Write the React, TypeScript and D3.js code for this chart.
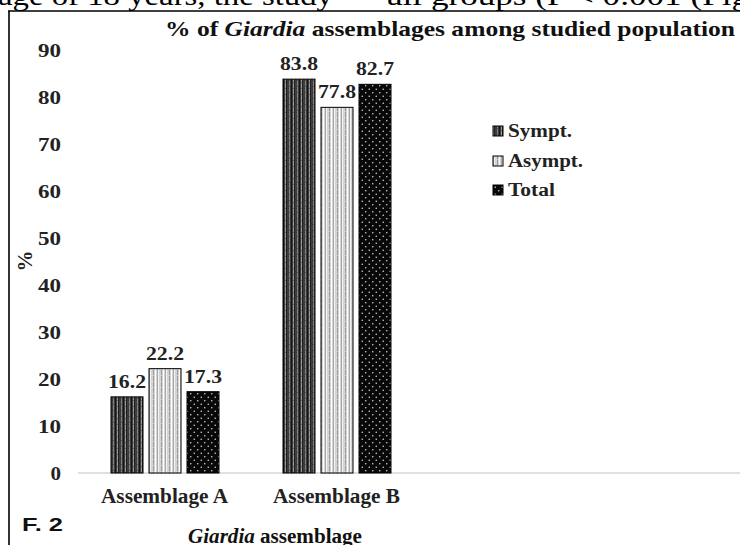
import React from "react";
import * as d3 from "d3";

const categories = ["Assemblage A", "Assemblage B"];
const series = ["Sympt.", "Asympt.", "Total"];
const sympt = [16.2, 83.8];
const asympt = [22.2, 77.8];
const total = [17.3, 82.7];
const yTicks = [0, 10, 20, 30, 40, 50, 60, 70, 80, 90];

const W = 740;
const H = 545;

const values = [sympt, asympt, total];
const patternIds = ["patSym", "patAsym", "patTot"];

export default function App() {
  const y = d3.scaleLinear().domain([0, 90]).range([473, 50]);
  const x0 = d3.scaleBand<string>().domain(categories).range([79, 423]);
  const serif = "'Liberation Serif', 'Times New Roman', serif";
  const sans = "'Liberation Sans', Arial, sans-serif";

  return (
    <svg
      width={W}
      height={H}
      style={{ position: "absolute", left: 0, top: 0, background: "#fff" }}
    >
      <defs>
        <pattern id="patSym" width="8" height="6" patternUnits="userSpaceOnUse">
          <rect width="8" height="6" fill="#3c3c3c" />
          <rect x="1" width="1" height="6" fill="#858585" />
          <rect x="3" width="1" height="6" fill="#151515" />
          <rect x="5" width="1" height="6" fill="#9a9a9a" />
          <rect x="6" width="1" height="6" fill="#202020" />
          <rect x="1" y="2" width="1" height="1" fill="#555" />
          <rect x="5" y="4" width="1" height="1" fill="#666" />
        </pattern>
        <pattern id="patAsym" width="8" height="6" patternUnits="userSpaceOnUse">
          <rect width="8" height="6" fill="#d4d4d4" />
          <rect x="1" width="1" height="6" fill="#9a9a9a" />
          <rect x="3" width="1" height="6" fill="#ffffff" />
          <rect x="5" width="1" height="6" fill="#a8a8a8" />
          <rect x="6" width="1" height="6" fill="#f2f2f2" />
          <rect x="1" y="3" width="1" height="1" fill="#ccc" />
        </pattern>
        <pattern id="patTot" width="7" height="7" patternUnits="userSpaceOnUse">
          <rect width="7" height="7" fill="#080808" />
          <circle cx="1.75" cy="1.75" r="0.8" fill="#cfcfcf" />
          <circle cx="5.25" cy="5.25" r="0.8" fill="#cfcfcf" />
        </pattern>
      </defs>

      {/* page header text (cut off) */}
      <text x={-2} y={5} fontFamily={serif} fontSize={28} textLength={335} lengthAdjust="spacingAndGlyphs">
        age of 18 years, the study
      </text>
      <text x={387} y={5} fontFamily={serif} fontSize={28} textLength={362} lengthAdjust="spacingAndGlyphs">
        all groups (P &lt; 0.001 (Fig
      </text>

      {/* frame */}
      <line x1={8} x2={W} y1={11} y2={11} stroke="#000" strokeWidth={1.6} />
      <line x1={9} x2={9} y1={11} y2={H} stroke="#000" strokeWidth={1.6} />

      {/* title */}
      <text
        x={165}
        y={36}
        fontFamily={serif}
        fontSize={22}
        fontWeight="bold"
        fill="#111"
        textLength={570}
        lengthAdjust="spacingAndGlyphs"
      >
        <tspan>% of </tspan>
        <tspan fontStyle="italic">Giardia</tspan>
        <tspan> assemblages among studied population</tspan>
      </text>

      {/* y tick labels */}
      {yTicks.map((t) => {
        const label = String(t);
        const w = label.length === 1 ? 10.5 : 23;
        return (
          <text
            key={t}
            x={61 - w}
            y={y(t) + 7}
            fontFamily={serif}
            fontSize={19}
            fontWeight="bold"
            fill="#222"
            textLength={w}
            lengthAdjust="spacingAndGlyphs"
          >
            {label}
          </text>
        );
      })}

      {/* y axis title */}
      <text
        transform={`translate(32, 261) rotate(-90)`}
        textAnchor="middle"
        fontFamily={serif}
        fontSize={21}
        fontWeight="bold"
        fill="#222"
      >
        %
      </text>

      {/* zero line */}
      <line x1={78} x2={W} y1={y(0)} y2={y(0)} stroke="#d6d6d6" strokeWidth={1.5} />

      {/* bars */}
      {categories.map((c, ci) => {
        const center = (x0(c) as number) + x0.bandwidth() / 2;
        const x1 = d3
          .scaleBand<string>()
          .domain(series)
          .range([center - 57, center + 57])
          .paddingInner(0.158)
          .paddingOuter(0.079);
        return (
          <g key={c}>
            {series.map((s, si) => {
              const v = values[si][ci];
              const bx = x1(s) as number;
              const bw = x1.bandwidth();
              const label = v.toFixed(1);
              return (
                <g key={s}>
                  <rect
                    x={bx}
                    y={y(v)}
                    width={bw}
                    height={y(0) - y(v)}
                    fill={`url(#${patternIds[si]})`}
                    stroke="#000"
                    strokeWidth={1}
                  />
                  <text
                    x={bx + bw / 2 - 19}
                    y={y(v) - 9}
                    fontFamily={serif}
                    fontSize={19}
                    fontWeight="bold"
                    fill="#222"
                    textLength={38}
                    lengthAdjust="spacingAndGlyphs"
                  >
                    {label}
                  </text>
                </g>
              );
            })}
            <text
              x={center - 64}
              y={503}
              fontFamily={serif}
              fontSize={20}
              fontWeight="bold"
              fill="#222"
              textLength={127}
              lengthAdjust="spacingAndGlyphs"
            >
              {c}
            </text>
          </g>
        );
      })}

      {/* x axis title */}
      <text
        x={188}
        y={543}
        fontFamily={serif}
        fontSize={20}
        fontWeight="bold"
        fill="#111"
        textLength={174}
        lengthAdjust="spacingAndGlyphs"
      >
        <tspan fontStyle="italic">Giardia</tspan>
        <tspan> assemblage</tspan>
      </text>

      {/* figure label */}
      <text
        x={22}
        y={531}
        fontFamily={sans}
        fontSize={19}
        fontWeight="bold"
        fill="#111"
        textLength={41}
        lengthAdjust="spacingAndGlyphs"
      >
        F. 2
      </text>

      {/* legend */}
      {series.map((s, si) => {
        const ly = 126 + si * 30 - (si === 2 ? 1 : 0);
        const widths = [64, 75, 47];
        return (
          <g key={s}>
            <rect
              x={493}
              y={ly}
              width={10}
              height={10}
              fill={`url(#${patternIds[si]})`}
              stroke="#000"
              strokeWidth={1}
            />
            <text
              x={508}
              y={ly + 11}
              fontFamily={serif}
              fontSize={18}
              fontWeight="bold"
              fill="#222"
              textLength={widths[si]}
              lengthAdjust="spacingAndGlyphs"
            >
              {s}
            </text>
          </g>
        );
      })}
    </svg>
  );
}
